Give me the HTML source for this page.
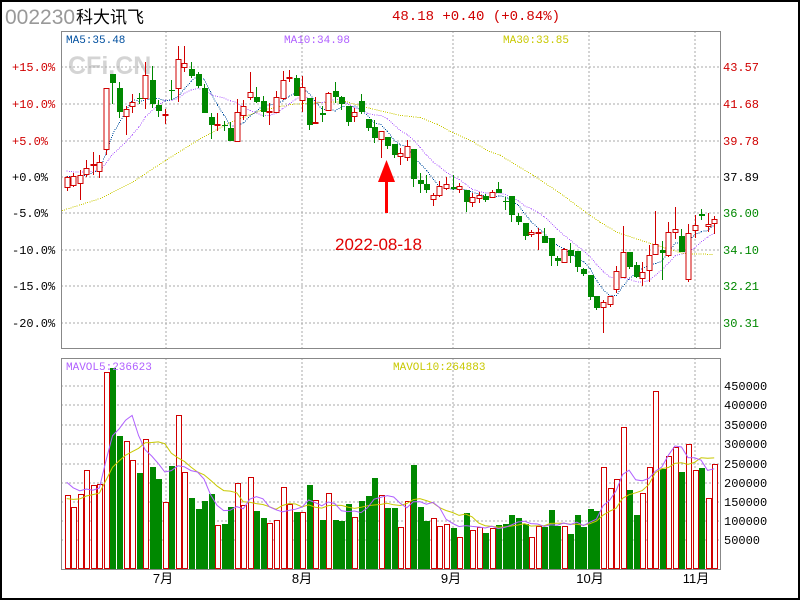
<!DOCTYPE html>
<html><head><meta charset="utf-8"><style>
body{margin:0;background:#fff;}
svg text{font-family:"Liberation Mono","Noto Sans CJK SC",monospace;}
</style></head><body>
<svg id="s" width="800" height="600" xmlns="http://www.w3.org/2000/svg" shape-rendering="crispEdges">
<rect x="0" y="0" width="800" height="600" fill="#fff"/>
<rect x="1" y="1" width="798" height="598" fill="none" stroke="#000" stroke-width="2"/>
<text x="5" y="24" font-size="21" fill="#999" style="font-family:'Liberation Sans',sans-serif">002230</text>
<text x="76" y="23" font-size="17" fill="#000" style="font-family:'Liberation Sans','Noto Sans CJK SC',sans-serif">科大讯飞</text>
<text x="392" y="20" font-size="14" fill="#d00000">48.18 +0.40 (+0.84%)</text>
<text x="68" y="74" font-size="25" font-weight="bold" fill="#d4d4d4" style="font-family:'Liberation Sans',sans-serif">CFi.CN</text>
<g id="g"></g>
</svg>
<script>
var g=document.getElementById('g'),NS='http://www.w3.org/2000/svg',h='';
function X(i){return 66.7+i*6.54;}
var L=61,R=720,T=31,B=348,VT=358,VB=569;
// grids
[67,104,141,177,213,250,286,323].forEach(function(y){h+='<line x1="'+L+'" x2="'+R+'" y1="'+y+'" y2="'+y+'" stroke="#aaa" stroke-dasharray="2,2"/>';});
[386,405,425,444,464,483,502,521,540].forEach(function(y){h+='<line x1="'+L+'" x2="'+R+'" y1="'+y+'" y2="'+y+'" stroke="#aaa" stroke-dasharray="2,2"/>';});
[166,302,453,589,695].forEach(function(x){h+='<line x1="'+x+'" x2="'+x+'" y1="'+T+'" y2="'+B+'" stroke="#aaa" stroke-dasharray="2,2"/><line x1="'+x+'" x2="'+x+'" y1="'+VT+'" y2="'+VB+'" stroke="#aaa" stroke-dasharray="2,2"/>';});
var C=[[177,187,176,191,1],[176,185,173,187,1],[175,183,170,200,1],[168,174,160,177,1],[164,165,152,175,1],[162,171,155,178,1],[88,149,88,155,1],[74,83,74,104,0],[88,112,82,118,0],[109,116,106,135,1],[102,106,94,113,1],[98,99,93,104,0],[75,98,62,109,1],[80,104,66,108,0],[105,111,100,117,0],[114,115,109,124,1],[90,91,80,100,0],[59,88,46,102,1],[63,67,46,72,1],[69,76,62,78,0],[74,86,72,88,0],[88,113,84,113,0],[117,125,113,139,0],[124,125,113,131,1],[125,126,121,131,0],[128,141,122,141,0],[112,141,99,141,1],[106,115,100,120,1],[92,97,72,100,1],[97,102,87,103,0],[101,112,96,117,0],[111,112,103,125,1],[97,112,91,112,1],[80,98,71,100,1],[77,78,70,82,1],[78,96,75,96,0],[87,100,76,112,1],[98,125,98,130,0],[122,123,97,124,1],[113,115,106,122,0],[93,110,92,110,1],[91,97,82,103,0],[97,104,96,110,0],[106,122,106,126,0],[112,116,108,122,1],[101,112,94,114,0],[119,128,119,131,0],[127,138,120,143,0],[131,139,131,158,1],[137,146,137,149,0],[144,155,144,158,0],[153,156,148,165,1],[146,157,140,161,1],[149,179,149,187,0],[180,184,173,193,0],[184,190,175,193,0],[195,199,193,206,1],[186,195,181,197,1],[184,188,177,190,1],[187,189,175,190,0],[186,189,183,193,1],[190,202,190,212,0],[197,202,193,207,1],[195,198,192,203,1],[196,200,194,202,0],[192,197,190,198,1],[189,193,182,193,0],[201,202,197,210,0],[196,215,196,222,0],[216,222,213,225,0],[223,236,223,240,0],[232,234,230,237,1],[232,233,228,250,1],[236,243,228,243,0],[238,256,238,266,0],[258,261,256,266,0],[249,262,248,263,1],[250,256,243,263,0],[251,267,251,272,0],[269,274,268,276,0],[275,297,275,300,0],[296,308,296,310,0],[302,307,300,333,1],[296,304,296,307,1],[271,289,266,293,1],[252,277,226,277,1],[252,267,252,269,0],[265,277,262,278,0],[272,278,262,286,1],[255,270,245,282,1],[244,254,211,255,1],[250,253,241,280,0],[232,255,222,257,1],[229,232,207,239,1],[236,252,229,252,0],[233,279,224,282,1],[225,230,215,238,1],[214,216,209,220,0],[224,226,213,232,1],[219,223,216,234,1]];
var V=[495,507,494,470,485,484,372,368,436,441,460,473,439,467,479,502,466,415,472,498,509,501,494,525,524,507,483,505,477,511,518,523,520,487,504,512,512,485,500,520,493,520,521,504,517,501,496,478,495,508,508,527,501,465,507,521,518,526,524,528,537,513,530,527,533,528,525,524,515,518,524,537,526,527,510,526,526,534,515,527,509,511,467,488,479,427,490,515,493,467,391,469,456,447,472,444,470,468,498,464];
// MA30 manual
var m30=[[62,210],[100,198],[133,181],[165,160],[200,138],[230,122],[260,110],[290,104],[320,102],[345,101],[370,108],[400,115],[420,117],[437,124],[450,131],[470,140],[487,150],[500,155],[533,175],[560,193],[583,210],[600,222],[617,232],[650,243],[683,253],[713,254]];
function dots(pts,col){var s='';for(var k=0;k<pts.length-1;k++){var a=pts[k],b=pts[k+1],d=Math.hypot(b[0]-a[0],b[1]-a[1]);for(var t=0;t<d;t+=2.2){s+='<rect x="'+(a[0]+(b[0]-a[0])*t/d).toFixed(1)+'" y="'+(a[1]+(b[1]-a[1])*t/d).toFixed(1)+'" width="1" height="1" fill="'+col+'"/>';}}return s;}
h+=dots(m30,'#c8c800');
var cl=C.map(function(c){return c[4]?c[0]:c[1];});
function ma(arr,n,pre){var out=[];for(var i=0;i<arr.length;i++){var s=0;for(var j=i-n+1;j<=i;j++){s+=j<0?pre:arr[j];}out.push([X(i),s/n]);}return out;}
h+=dots(ma(cl,10,170),'#b060ff');
h+=dots(ma(cl,5,176),'#004f9f');
// candles
C.forEach(function(c,i){var x=X(i),xr=Math.round(x);var top=Math.min(c[0],c[1]),bot=Math.max(c[0],c[1]);if(bot-top<1)bot=top+1;
var col=c[4]?'#d00000':'#008800';
h+='<line x1="'+xr+'.5" x2="'+xr+'.5" y1="'+c[2]+'" y2="'+c[3]+'" stroke="'+col+'"/>';
if(c[4])h+='<rect x="'+(xr-2)+'" y="'+top+'.5" width="5" height="'+(bot-top)+'" fill="#fff" stroke="'+col+'"/>';
else h+='<rect x="'+(xr-2)+'" y="'+top+'" width="6" height="'+(bot-top)+'" fill="'+col+'"/>';});
// volume
V.forEach(function(v,i){var xr=Math.round(X(i));var c=C[i];
if(c[4])h+='<rect x="'+(xr-2)+'.5" y="'+v+'.5" width="5" height="'+(VB-v-1)+'" fill="#fff" stroke="#d00000"/>';
else h+='<rect x="'+(xr-2)+'" y="'+v+'" width="6" height="'+(VB-v)+'" fill="#008800"/>';});
function vma(n,pre){var p=[];for(var i=0;i<V.length;i++){var s=0;for(var j=i-n+1;j<=i;j++)s+=j<0?pre:(VB-V[j]);p.push(X(i).toFixed(1)+','+(VB-s/n).toFixed(1));}return p.join(' ');}
h+='<polyline points="'+vma(10,70)+'" fill="none" stroke="#c8c800" shape-rendering="auto"/>';
h+='<polyline points="'+vma(5,90)+'" fill="none" stroke="#b060ff" shape-rendering="auto"/>';
// frames
h+='<rect x="'+L+'.5" y="'+T+'.5" width="'+(R-L)+'" height="'+(B-T)+'" fill="none" stroke="#888"/>';
h+='<rect x="'+L+'.5" y="'+VT+'.5" width="'+(R-L)+'" height="'+(VB-VT)+'" fill="none" stroke="#888"/>';
// labels
var ll=[['+15.0%',67,'#d00000'],['+10.0%',104,'#d00000'],['+5.0%',141,'#d00000'],['+0.0%',177,'#000'],['-5.0%',213,'#000'],['-10.0%',250,'#000'],['-15.0%',286,'#000'],['-20.0%',323,'#000']];
ll.forEach(function(a){h+='<text x="12" y="'+(a[1]+4)+'" font-size="12" fill="'+a[2]+'">'+a[0]+'</text>';});
var rl=[['43.57',67,'#d00000'],['41.68',104,'#d00000'],['39.78',141,'#d00000'],['37.89',177,'#000'],['36.00',213,'#008800'],['34.10',250,'#008800'],['32.21',286,'#008800'],['30.31',323,'#008800']];
rl.forEach(function(a){h+='<text x="723" y="'+(a[1]+4)+'" font-size="12" fill="'+a[2]+'">'+a[0]+'</text>';});
[['450000',386],['400000',405],['350000',425],['300000',444],['250000',464],['200000',483],['150000',502],['100000',521],['50000',540]].forEach(function(a){h+='<text x="724" y="'+(a[1]+4)+'" font-size="12" fill="#000">'+a[0]+'</text>';});
[['7月',163],['8月',302],['9月',451],['10月',590],['11月',696]].forEach(function(a){h+='<text x="'+a[1]+'" y="583" font-size="13" text-anchor="middle" fill="#000" style="font-family:\'Liberation Sans\',\'Noto Sans CJK SC\',sans-serif">'+a[0]+'</text>';});
h+='<text x="66" y="43" font-size="11" fill="#004f9f">MA5:35.48</text>';
h+='<text x="284" y="43" font-size="11" fill="#b060ff">MA10:34.98</text>';
h+='<text x="503" y="43" font-size="11" fill="#c8c800">MA30:33.85</text>';
h+='<text x="66" y="370" font-size="11" fill="#b060ff">MAVOL5:236623</text>';
h+='<text x="393" y="370" font-size="11" fill="#c8c800">MAVOL10:264883</text>';
// arrow
h+='<rect x="385" y="178" width="3" height="35" fill="#ff0000"/><polygon points="386.5,160 378,182 395,182" fill="#ff0000" shape-rendering="auto"/>';
h+='<text x="335" y="250" font-size="17" fill="#e00000" style="font-family:\'Liberation Sans\',sans-serif">2022-08-18</text>';
g.innerHTML=h;
</script>
</body></html>
